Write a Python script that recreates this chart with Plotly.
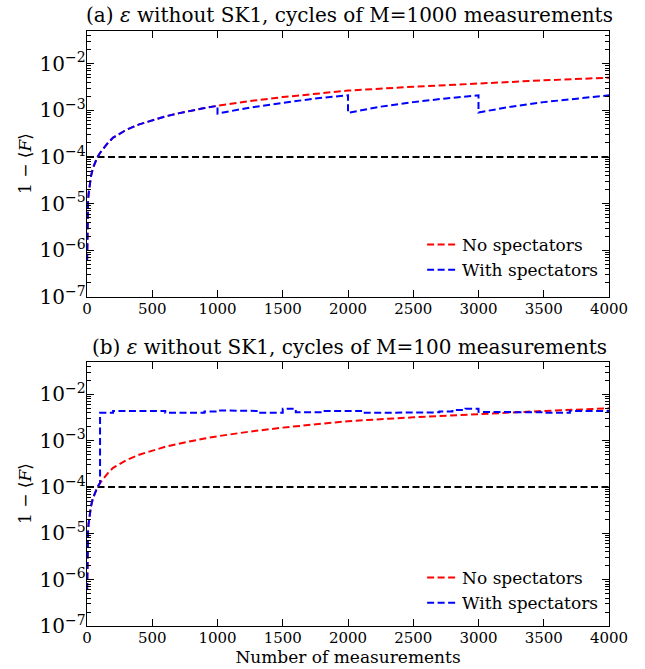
import plotly.graph_objects as go

# ---------------- data ----------------
n_vals = [1, 2, 3, 5, 8, 12, 20, 30, 45, 60, 80, 100, 130, 160, 200, 250, 300,
          400, 500, 600, 700, 800, 900, 1000, 1250, 1500, 1750, 2000, 2500,
          3000, 3500, 4000]
no_spec = [6e-7, 2e-6, 3.5e-6, 7e-6, 1.1e-5, 1.6e-5, 2.6e-5, 3.8e-5, 5.7e-5,
           7.6e-5, 1.0e-4, 1.22e-4, 1.6e-4, 2.0e-4, 2.6e-4, 3.2e-4, 3.8e-4,
           5.0e-4, 6.2e-4, 7.4e-4, 8.6e-4, 1.0e-3, 1.12e-3, 1.25e-3, 1.58e-3,
           1.92e-3, 2.28e-3, 2.65e-3, 3.2e-3, 3.8e-3, 4.4e-3, 5.0e-3]

# panel (a), with spectators, cycles of 1000 (after first cycle)
with_a_x = [1000, 1250, 1500, 1750, 2000, 2000, 2250, 2500, 2750, 3000,
            3000, 3250, 3500, 3750, 4000]
with_a_y = [8.5e-4, 1.15e-3, 1.45e-3, 1.8e-3, 2.1e-3, 8.8e-4, 1.2e-3, 1.5e-3,
            1.8e-3, 2.1e-3, 9.0e-4, 1.2e-3, 1.5e-3, 1.8e-3, 2.1e-3]

# panel (b), with spectators, cycles of 100 (value held during each cycle)
cycle_start_b = list(range(100, 4000, 100))
with_b_vals = [4.0e-3, 4.4e-3, 4.4e-3, 4.4e-3, 4.4e-3, 4.0e-3, 4.0e-3, 4.0e-3,
               4.3e-3, 4.5e-3, 4.4e-3, 4.4e-3, 4.0e-3, 4.0e-3, 4.9e-3, 4.1e-3,
               4.1e-3, 4.4e-3, 4.4e-3, 4.4e-3, 4.0e-3, 4.0e-3, 4.0e-3, 4.0e-3,
               4.0e-3, 4.1e-3, 4.3e-3, 4.6e-3, 4.9e-3, 4.2e-3, 4.2e-3, 4.1e-3,
               4.1e-3, 4.1e-3, 4.0e-3, 4.0e-3, 4.4e-3, 4.4e-3, 4.4e-3]
threshold = 1e-4
x_max = 4000

# ---------------- build series ----------------
ax_x = [x for x in n_vals if x <= 1000] + with_a_x
ax_y = [y for x, y in zip(n_vals, no_spec) if x <= 1000] + with_a_y

bx = [x for x in n_vals if x <= 100]
by = [y for x, y in zip(n_vals, no_spec) if x <= 100]
for s, v in zip(cycle_start_b, with_b_vals):
    bx += [s, s + 100]
    by += [v, v]

RED = "#ff0000"
BLUE = "#0000ff"
DASH = "7px,3.5px"
FONT = "DejaVu Serif"

fig = go.Figure()
for xa, ya, leg, wx, wy in [("x", "y", "legend", ax_x, ax_y),
                             ("x2", "y2", "legend2", bx, by)]:
    fig.add_trace(go.Scatter(x=[0, x_max], y=[threshold, threshold], mode="lines",
                             line=dict(color="black", width=2, dash=DASH),
                             showlegend=False, xaxis=xa, yaxis=ya))
    fig.add_trace(go.Scatter(x=n_vals, y=no_spec, mode="lines", name="No spectators",
                             line=dict(color=RED, width=2, dash=DASH),
                             xaxis=xa, yaxis=ya, legend=leg))
    fig.add_trace(go.Scatter(x=wx, y=wy, mode="lines", name="With spectators",
                             line=dict(color=BLUE, width=2, dash=DASH),
                             xaxis=xa, yaxis=ya, legend=leg))

common_x = dict(range=[0, x_max], dtick=500, showline=True, linecolor="black",
                linewidth=1.2, mirror="ticks", ticks="inside", ticklen=7,
                tickcolor="black", showgrid=False, zeroline=False, automargin=False,
                ticklabelstandoff=-2,
                tickfont=dict(family=FONT, size=15, color="black"))
common_y = dict(type="log", range=[-7, -1.3], dtick=1, exponentformat="power",
                showline=True, linecolor="black", linewidth=1.2, mirror="ticks",
                ticks="inside", ticklen=7, tickcolor="black", showgrid=False,
                zeroline=False, automargin=False, ticklabelstandoff=-3,
                minor=dict(ticks="inside", ticklen=3.5, tickcolor="black", showgrid=False),
                tickfont=dict(family=FONT, size=16, color="black"))

top_dom = [(626 - 297) / 595, 1.0]
bot_dom = [0.0, (626 - 362) / 595]

ylab = "1 − ⟨<i>F</i>⟩"
annotations = [
    dict(text="(a) <i>ε</i> without SK1, cycles of M=1000 measurements",
         xref="paper", yref="paper", x=0.503, y=(626 - 15) / 595,
         xanchor="center", yanchor="middle", showarrow=False,
         font=dict(family=FONT, size=20, color="black")),
    dict(text="(b) <i>ε</i> without SK1, cycles of M=100 measurements",
         xref="paper", yref="paper", x=0.503, y=(626 - 347) / 595,
         xanchor="center", yanchor="middle", showarrow=False,
         font=dict(family=FONT, size=20, color="black")),
]
for dom in (top_dom, bot_dom):
    annotations.append(dict(text=ylab, xref="paper", yref="paper",
                            x=(25 - 87) / 522, y=(dom[0] + dom[1]) / 2,
                            xanchor="center", yanchor="middle", textangle=-90,
                            showarrow=False,
                            font=dict(family=FONT, size=17, color="black")))

fig.update_layout(
    width=645, height=669,
    margin=dict(l=87, r=36, t=31, b=43),
    plot_bgcolor="white", paper_bgcolor="white",
    font=dict(family=FONT, size=15, color="black"),
    xaxis=dict(**common_x, anchor="y", showticklabels=True),
    yaxis=dict(**common_y, domain=top_dom, anchor="x"),
    xaxis2=dict(**common_x, anchor="y2",
                title=dict(text="Number of measurements",
                           font=dict(family=FONT, size=17, color="black"), standoff=0)),
    yaxis2=dict(**common_y, domain=bot_dom, anchor="x2"),
    legend=dict(x=0.642, y=(626 - 227) / 595, xanchor="left", yanchor="top",
                bgcolor="rgba(0,0,0,0)", font=dict(family=FONT, size=17),
                tracegroupgap=0, itemwidth=30),
    legend2=dict(x=0.642, y=(626 - 560) / 595, xanchor="left", yanchor="top",
                 bgcolor="rgba(0,0,0,0)", font=dict(family=FONT, size=17),
                 tracegroupgap=0, itemwidth=30),
    annotations=annotations,
)

fig.write_html("out.html", config={"displayModeBar": False},
               post_script="document.body.style.margin='0px';")
